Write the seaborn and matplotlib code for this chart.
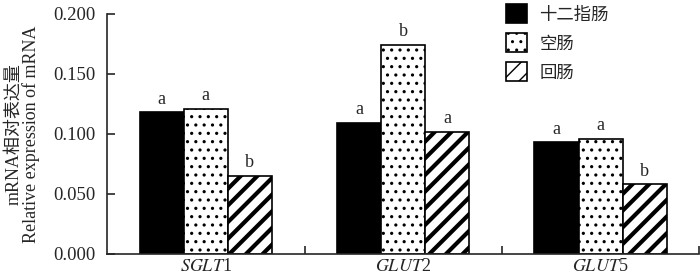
import numpy as np
import pandas as pd
import matplotlib
matplotlib.use("Agg")
import matplotlib.pyplot as plt
import matplotlib.patches as mpatches
import seaborn as sns

genes = ["SGLT1", "GLUT2", "GLUT5"]
gene_labels = [r"$\mathit{SGLT}$1", r"$\mathit{GLUT}$2", r"$\mathit{GLUT}$5"]
segments = ["十二指肠", "空肠", "回肠"]
duodenum = [0.118, 0.109, 0.093]
jejunum = [0.121, 0.174, 0.096]
ileum = [0.065, 0.102, 0.058]
letters = [["a", "a", "a"], ["a", "b", "a"], ["b", "a", "b"]]  # per segment, per gene

df = pd.DataFrame({
    "gene": genes * 3,
    "segment": [s for s in segments for _ in genes],
    "value": duodenum + jejunum + ileum,
})

sns.set_style("ticks")
plt.rcParams["font.family"] = ["Liberation Serif", "Noto Sans CJK SC"]
plt.rcParams["mathtext.fontset"] = "stix"

hatches = ["", "..", "//"]
faces = ["black", "white", "white"]
hatch_lw = [1.0, 1.1, 3.0]


def style_patch(p, fc, h, lw):
    p.set_facecolor(fc)
    p.set_hatch(h)
    p.set_edgecolor("black")
    if hasattr(p, "set_hatch_linewidth"):
        p.set_hatch_linewidth(lw)


fig = plt.figure(figsize=(7, 2.8), dpi=100)
ax = fig.add_axes([0.153, 0.093, 0.846, 0.857])

sns.barplot(data=df, x="gene", y="value", hue="segment", order=genes,
            hue_order=segments, width=0.67, gap=0, ax=ax, legend=False,
            edgecolor="black", linewidth=1.2, saturation=1)

for cont, h, fc, lw in zip(ax.containers, hatches, faces, hatch_lw):
    for bar in cont:
        style_patch(bar, fc, h, lw)

for cont, labs in zip(ax.containers, letters):
    for bar, lab in zip(cont, labs):
        ax.text(bar.get_x() + bar.get_width() / 2, bar.get_height() + 0.004, lab,
                ha="center", va="bottom", fontsize=13)

ax.set_xlim(-0.5, 2.5)
ax.set_ylim(0, 0.2)
ax.set_yticks([0, 0.05, 0.1, 0.15, 0.2])
ax.set_yticklabels(["0.000", "0.050", "0.100", "0.150", "0.200"])
ax.set_xticks([0, 1, 2])
ax.set_xticklabels(gene_labels)
ax.set_xticks([0.5, 1.5, 2.5], minor=True)
ax.tick_params(axis="y", direction="in", length=6, width=1.2, labelsize=13.5, pad=8)
ax.tick_params(axis="x", which="major", length=0, labelsize=13, pad=3)
ax.tick_params(axis="x", which="minor", direction="in", length=6, width=1.2)
ax.set_xlabel("")
ax.set_ylabel("mRNA相对表达量\nRelative expression of mRNA", fontsize=13,
              linespacing=1.0, labelpad=10)
sns.despine(ax=ax)
ax.spines["left"].set_linewidth(1.2)
ax.spines["bottom"].set_linewidth(1.2)

handles = []
for fc, h, lw in zip(faces, hatches, hatch_lw):
    p = mpatches.Patch(linewidth=1.2)
    style_patch(p, fc, h, lw)
    handles.append(p)
ax.legend(handles, segments, loc="upper left", bbox_to_anchor=(0.648, 1.105),
          frameon=False, fontsize=12.5, handlelength=1.2, handleheight=1.3,
          labelspacing=0.55, handletextpad=0.7)

fig.savefig("out.png", dpi=100)
